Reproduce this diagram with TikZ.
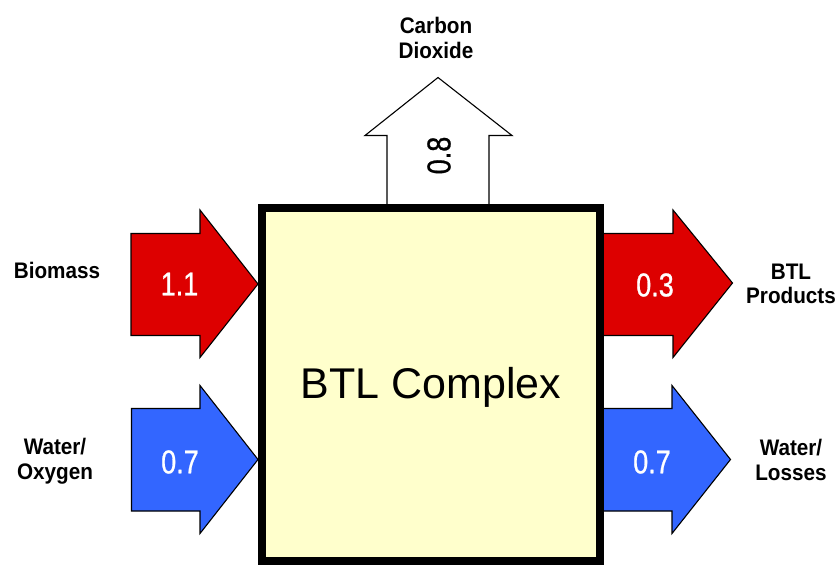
\documentclass[tikz,border=0pt]{standalone}
\usepackage{fontspec}
\setmainfont{Liberation Sans}
\newfontfamily\lblfont[FakeStretch=0.92]{Liberation Sans}
\newfontfamily\numfont[FakeStretch=0.82,FakeBold=0.8]{Liberation Sans}
\definecolor{arrred}{HTML}{DD0000}
\definecolor{arrblue}{HTML}{3366FF}
\definecolor{boxyellow}{HTML}{FFFFCC}
\tikzset{
  flowarrow/.style={draw=black, line width=1.1pt, line join=miter},
  lbl/.style={inner sep=0pt, align=center, anchor=base, font=\lblfont\bfseries\fontsize{22.5}{24.5}\selectfont},
  num/.style={inner sep=0pt, text=white, font=\numfont\fontsize{33}{35}\selectfont},
  complexbox/.style={draw=black, line width=8pt, fill=boxyellow}
}
\begin{document}
\begin{tikzpicture}[x=1pt, y=-1pt]
\useasboundingbox (0,0) rectangle (839,565);
% arrows
\draw[flowarrow, fill=white] (387,208) -- (387,135.5) -- (365,135.5) -- (438,77.5) -- (512,135.5) -- (489,135.5) -- (489,208);
\draw[flowarrow, fill=arrred] (131,233.5) -- (200,233.5) -- (200,210) -- (258,284) -- (200,357.5) -- (200,335.5) -- (131,335.5) -- cycle;
\draw[flowarrow, fill=arrblue] (131.5,408.5) -- (200,408.5) -- (200,385.5) -- (258,459.5) -- (200,533.5) -- (200,511) -- (131.5,511) -- cycle;
\draw[flowarrow, fill=arrred] (600,233.5) -- (673,233.5) -- (673,210) -- (732.5,283) -- (673,357.5) -- (673,335.5) -- (600,335.5);
\draw[flowarrow, fill=arrblue] (600,408.5) -- (672,408.5) -- (672,385.5) -- (730.5,459.5) -- (672,533.5) -- (672,511) -- (600,511);
% box
\draw[complexbox] (262,208) rectangle (600,561);
\node[inner sep=0pt, font=\fontsize{43}{45}\selectfont] (complex) at (431,387.5) {BTL Complex};
% numbers
\node[num] (n11) at (179.5,284) {1.1};
\node[num] (n07a) at (180,462) {0.7};
\node[num] (n03) at (655,285) {0.3};
\node[num] (n07b) at (652,462) {0.7};
\node[num, text=black, rotate=90] (n08) at (439,155.5) {0.8};
% labels
\node[lbl] (co2) at (436,58.3) {Carbon\\Dioxide};
\node[lbl] (bio) at (57,278.3) {Biomass};
\node[lbl] (wo) at (55,479) {Water/\\Oxygen};
\node[lbl] (btlp) at (791,303.5) {BTL\\Products};
\node[lbl] (wl) at (791,480) {Water/\\Losses};
\end{tikzpicture}
\end{document}
